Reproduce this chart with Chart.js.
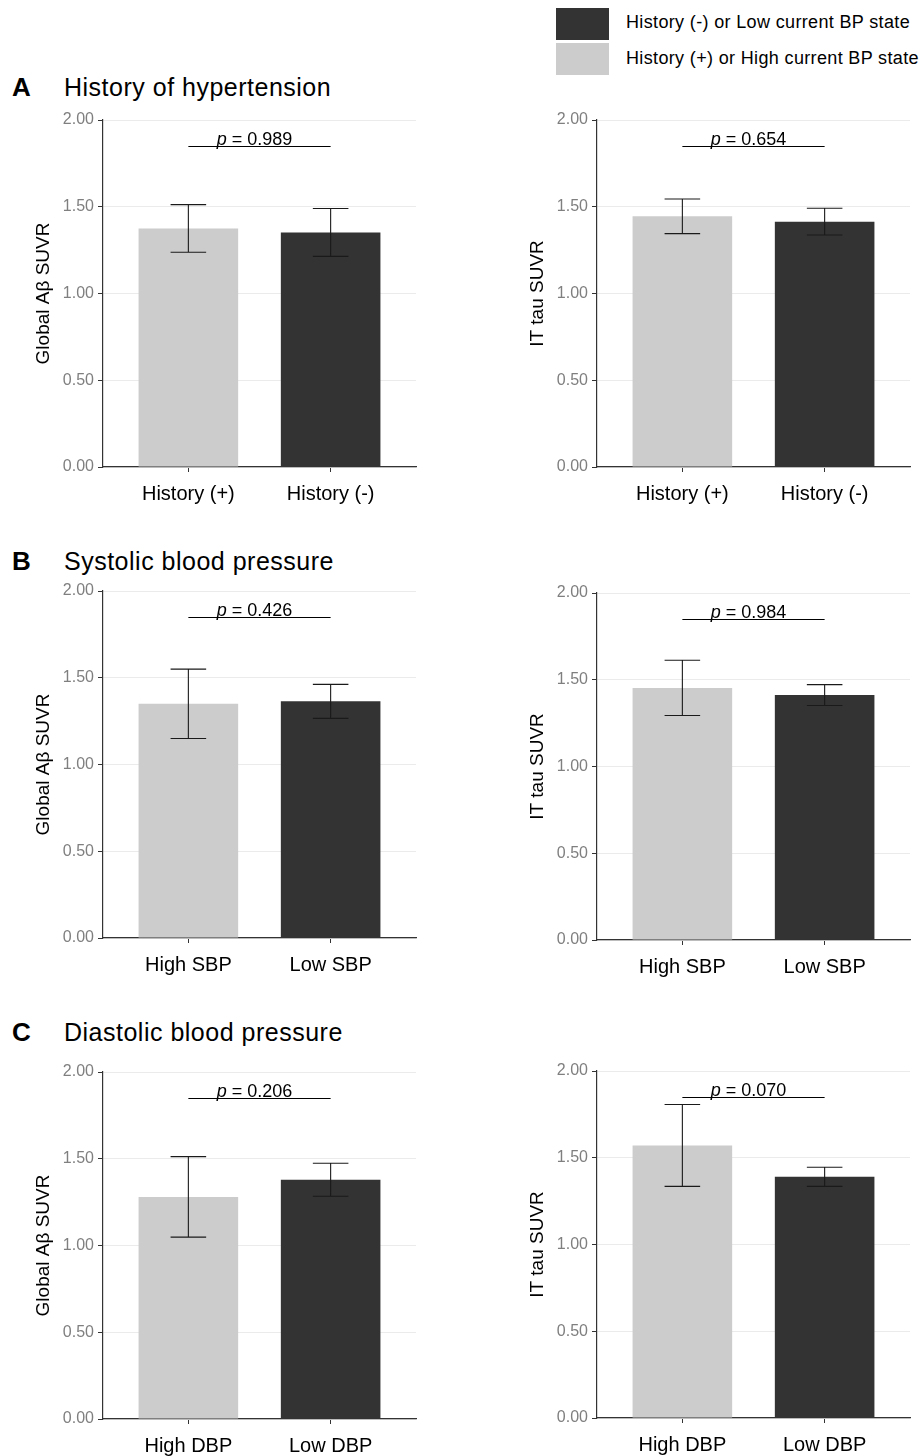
<!DOCTYPE html>
<html>
<head>
<meta charset="utf-8">
<script src="https://cdn.jsdelivr.net/npm/chart.js@4.4.1/dist/chart.umd.min.js"></script>
<style>
  body { margin: 0; background: #fff; font-family: 'Liberation Sans', Arial, sans-serif; }
  #page { position: relative; width: 924px; height: 1456px; }
  canvas { position: absolute; }
  .lbl { position: absolute; white-space: nowrap; color: #000; }
  .letter { font-size: 26px; line-height: 26px; font-weight: bold; }
  .title { font-size: 25px; line-height: 25px; letter-spacing: 0.5px; }
  .key { position: absolute; left: 556px; width: 53px; height: 32px; }
  .keytxt { font-size: 18px; line-height: 18px; letter-spacing: 0.35px; left: 626px; }
</style>
</head>
<body>
<div id="page">
  <div class="key" style="top:8px;background:#333333"></div>
  <div class="key" style="top:43px;background:#cccccc"></div>
  <div class="lbl keytxt" style="top:13px">History (-) or Low current BP state</div>
  <div class="lbl keytxt" style="top:49px">History (+) or High current BP state</div>

  <div class="lbl letter" style="left:12px;top:74px">A</div>
  <div class="lbl title" style="left:64px;top:75px">History of hypertension</div>
  <div class="lbl letter" style="left:12px;top:548px">B</div>
  <div class="lbl title" style="left:64px;top:549px">Systolic blood pressure</div>
  <div class="lbl letter" style="left:12px;top:1019px">C</div>
  <div class="lbl title" style="left:64px;top:1020px">Diastolic blood pressure</div>

  <canvas id="aLeft" width="431" height="412" style="left:0;top:105px"></canvas>
  <canvas id="aRight" width="431" height="412" style="left:494px;top:105px"></canvas>
  <canvas id="bLeft" width="431" height="412" style="left:0;top:576px"></canvas>
  <canvas id="bRight" width="431" height="412" style="left:494px;top:578px"></canvas>
  <canvas id="cLeft" width="431" height="412" style="left:0;top:1057px"></canvas>
  <canvas id="cRight" width="431" height="412" style="left:494px;top:1056px"></canvas>
</div>
<script>
// categories
const historyCats = ['History (+)', 'History (-)'];
const sbpCats = ['High SBP', 'Low SBP'];
const dbpCats = ['High DBP', 'Low DBP'];

// means and error (half-width)
const histAbetaMean = [1.375, 1.352];
const histAbetaErr = [0.137, 0.138];
const histTauMean = [1.445, 1.414];
const histTauErr = [0.100, 0.077];

const sbpAbetaMean = [1.350, 1.364];
const sbpAbetaErr = [0.200, 0.098];
const sbpTauMean = [1.453, 1.412];
const sbpTauErr = [0.159, 0.060];

const dbpAbetaMean = [1.280, 1.379];
const dbpAbetaErr = [0.232, 0.095];
const dbpTauMean = [1.571, 1.390];
const dbpTauErr = [0.236, 0.055];

const pValues = ['0.989', '0.654', '0.426', '0.984', '0.206', '0.070'];
const bracketY = 1.85;
const yTicks = [0, 0.5, 1, 1.5, 2];

const barColors = ['#cccccc', '#333333'];
const FONT = "'Liberation Sans', Arial, sans-serif";

// error bars + p-value bracket
const annotPlugin = {
  id: 'annot',
  afterDatasetsDraw(chart, args, opts) {
    const ctx = chart.ctx;
    const xs = chart.scales.x, ys = chart.scales.y;
    const meta = chart.getDatasetMeta(0);
    const capHalf = xs.getPixelForValue(1.125) - xs.getPixelForValue(1);
    ctx.save();
    ctx.strokeStyle = '#1a1a1a';
    ctx.lineWidth = 1.1;
    meta.data.forEach((bar, i) => {
      const m = opts.means[i], e = opts.errs[i];
      const yTop = ys.getPixelForValue(m + e), yBot = ys.getPixelForValue(m - e);
      ctx.beginPath();
      ctx.moveTo(bar.x, yTop); ctx.lineTo(bar.x, yBot);
      ctx.moveTo(bar.x - capHalf, yTop); ctx.lineTo(bar.x + capHalf, yTop);
      ctx.moveTo(bar.x - capHalf, yBot); ctx.lineTo(bar.x + capHalf, yBot);
      ctx.stroke();
    });
    // bracket
    const by = Math.round(ys.getPixelForValue(bracketY)) + 0.5;
    const x1 = xs.getPixelForValue(1), x2 = xs.getPixelForValue(2);
    ctx.strokeStyle = '#000';
    ctx.lineWidth = 1;
    ctx.beginPath(); ctx.moveTo(x1, by); ctx.lineTo(x2, by); ctx.stroke();
    // p label
    const italic = 'italic 18px ' + FONT, normal = '18px ' + FONT;
    const rest = ' = ' + opts.p;
    ctx.font = italic; const wp = ctx.measureText('p').width;
    ctx.font = normal; const wr = ctx.measureText(rest).width;
    let sx = (x1 + x2) / 2 - 5 - (wp + wr) / 2;
    ctx.fillStyle = '#000';
    ctx.textBaseline = 'alphabetic';
    ctx.textAlign = 'left';
    ctx.font = italic; ctx.fillText('p', sx, by - 2);
    ctx.font = normal; ctx.fillText(rest, sx + wp, by - 2);
    ctx.restore();
  }
};

function makeChart(id, cats, means, errs, yTitle, p) {
  new Chart(document.getElementById(id).getContext('2d'), {
    type: 'bar',
    data: {
      datasets: [{
        data: cats.map((c, i) => ({ x: i + 1, y: means[i] })),
        backgroundColor: barColors,
        borderWidth: 0,
        barPercentage: 0.7,
        categoryPercentage: 1
      }]
    },
    options: {
      responsive: false,
      animation: false,
      layout: { padding: { top: 15, right: 15, left: 0, bottom: 0 } },
      plugins: {
        legend: { display: false },
        tooltip: { enabled: false },
        annot: { means: means, errs: errs, p: p }
      },
      scales: {
        x: {
          type: 'linear',
          min: 0.4, max: 2.6,
          offset: false,
          afterBuildTicks: s => { s.ticks = cats.map((c, i) => ({ value: i + 1 })); },
          afterFit: s => { s.height = 50; },
          grid: { offset: false, color: 'rgba(0,0,0,0)', tickColor: '#333333', tickLength: 5, drawOnChartArea: false },
          border: { color: '#333333', width: 1.2 },
          ticks: {
            callback: v => cats[v - 1],
            color: '#000', padding: 10, maxRotation: 0, autoSkip: false,
            font: { family: FONT, size: 20 }
          }
        },
        y: {
          min: 0, max: 2,
          afterBuildTicks: s => { s.ticks = yTicks.map(v => ({ value: v })); },
          afterFit: s => { s.width = 103; },
          grid: { color: '#ebebeb', tickColor: '#333333', tickLength: 5, lineWidth: 1 },
          border: { color: '#333333', width: 1.2 },
          ticks: {
            callback: v => v.toFixed(2),
            color: '#7f7f7f', padding: 4,
            font: { family: FONT, size: 16 }
          },
          title: {
            display: true, text: yTitle, color: '#000',
            font: { family: FONT, size: 19 },
            padding: { top: 32, bottom: 0 }
          }
        }
      }
    },
    plugins: [annotPlugin]
  });
}

makeChart('aLeft', historyCats, histAbetaMean, histAbetaErr, 'Global Aβ SUVR', pValues[0]);
makeChart('aRight', historyCats, histTauMean, histTauErr, 'IT tau SUVR', pValues[1]);
makeChart('bLeft', sbpCats, sbpAbetaMean, sbpAbetaErr, 'Global Aβ SUVR', pValues[2]);
makeChart('bRight', sbpCats, sbpTauMean, sbpTauErr, 'IT tau SUVR', pValues[3]);
makeChart('cLeft', dbpCats, dbpAbetaMean, dbpAbetaErr, 'Global Aβ SUVR', pValues[4]);
makeChart('cRight', dbpCats, dbpTauMean, dbpTauErr, 'IT tau SUVR', pValues[5]);
</script>
</body>
</html>
